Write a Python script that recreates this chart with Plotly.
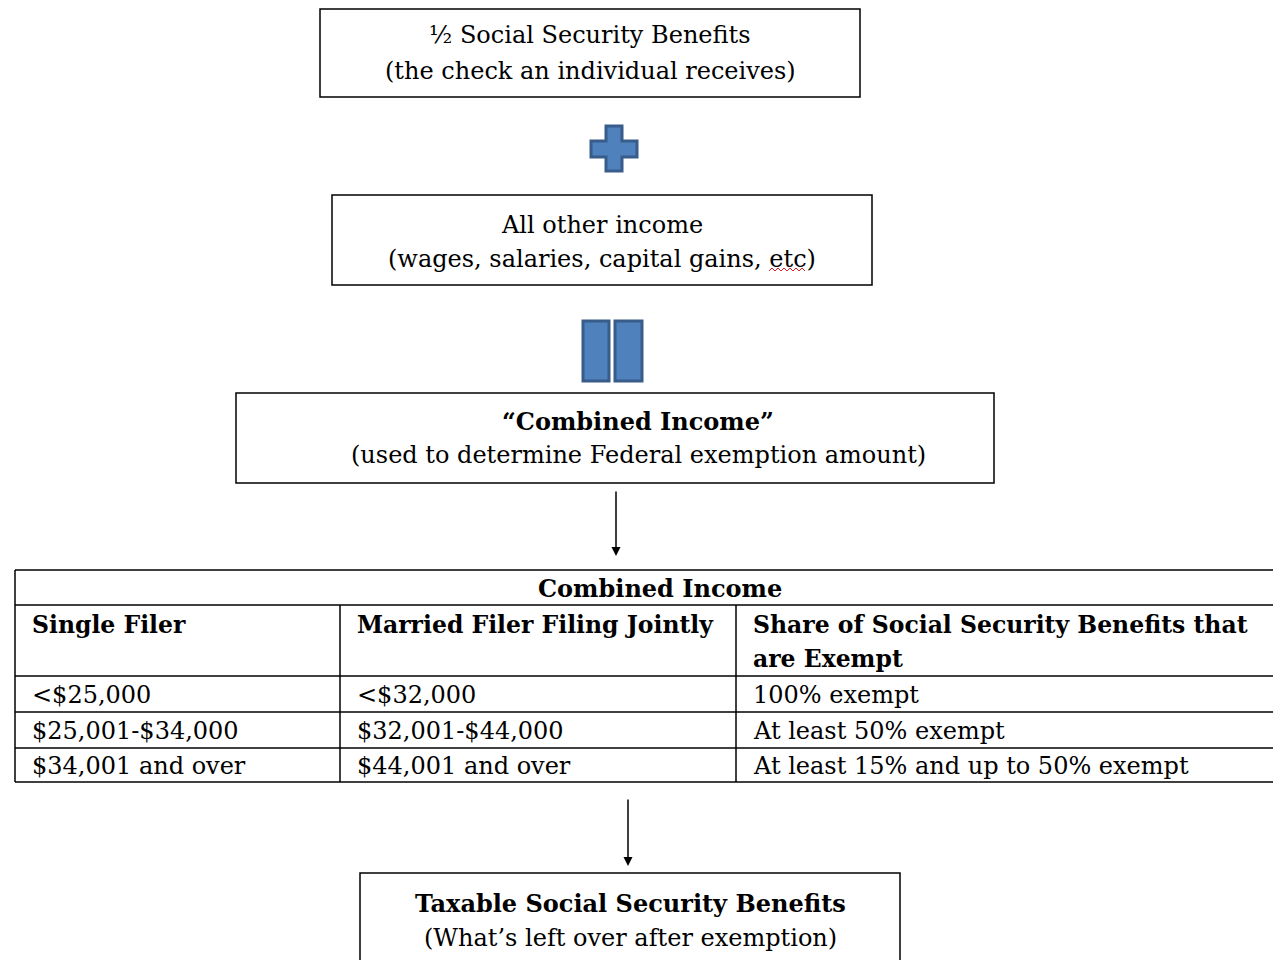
import plotly.graph_objects as go

# Textos do fluxograma
box_titles = ['½ Social Security Benefits', 'All other income',
              '“Combined Income”', 'Taxable Social Security Benefits']
box_subtitles = ['(the check an individual receives)',
                 '(wages, salaries, capital gains, etc)',
                 '(used to determine Federal exemption amount)',
                 '(What’s left over after exemption)']
box_bold = [False, False, True, True]

# Tabela
table_title = 'Combined Income'
table_headers = [['Single Filer'], ['Married Filer Filing Jointly'],
                 ['Share of Social Security Benefits that', 'are Exempt']]
single_filer = ['<$25,000', '$25,001-$34,000', '$34,001 and over']
married_jointly = ['<$32,000', '$32,001-$44,000', '$44,001 and over']
share_exempt = ['100% exempt', 'At least 50% exempt', 'At least 15% and up to 50% exempt']

FONT = 'DejaVu Serif'
SIZE = 24
BLUE_FILL = '#4F81BD'
BLUE_LINE = '#385D8A'

# a página tem 8px de margem no body: compensado nos eixos
OFF = 8
W, H = 1281, 960
fig = go.Figure()

# Caixas: (x0, x1, y0, y1)
boxes = [(320, 860, 9, 97), (332, 872, 195, 285), (236, 994, 393, 483), (360, 900, 873, 975)]
text_x = [590, 602, 638, 630]
title_y = [35, 225, 421, 903]
sub_y = [71, 259, 455, 938]

for (x0, x1, y0, y1), cx, t, s, b, ty, sy in zip(boxes, text_x, box_titles, box_subtitles,
                                                 box_bold, title_y, sub_y):
    fig.add_shape(type='rect', x0=x0, x1=x1, y0=y0, y1=y1,
                  line=dict(color='black', width=1.5), fillcolor='white')
    fig.add_annotation(x=cx, y=ty, text=f'<b>{t}</b>' if b else t, showarrow=False,
                       font=dict(family=FONT, size=SIZE, color='black'))
    fig.add_annotation(x=cx, y=sy, text=s, showarrow=False,
                       font=dict(family=FONT, size=SIZE, color='black'))

# Sublinhado ondulado vermelho em "etc"
wave = 'M 769 271 ' + ' '.join(f'L {769 + 3 * i} {271 if i % 2 == 0 else 268}' for i in range(1, 13))
fig.add_shape(type='path', path=wave, line=dict(color='#E02020', width=1))

# Sinal de mais
fig.add_shape(type='path',
              path='M 606 126 L 622 126 L 622 141 L 637 141 L 637 157 L 622 157 L 622 171 L 606 171 L 606 157 L 591 157 L 591 141 L 606 141 Z',
              fillcolor=BLUE_FILL, line=dict(color=BLUE_LINE, width=3))

# Sinal de igual (barras verticais)
for x0, x1 in [(583, 609), (615, 642)]:
    fig.add_shape(type='rect', x0=x0, x1=x1, y0=321, y1=381,
                  fillcolor=BLUE_FILL, line=dict(color=BLUE_LINE, width=3))

# Setas
for x, ya, yb in [(616, 490, 556), (628, 798, 866)]:
    fig.add_annotation(x=x, y=yb, ax=x, ay=ya, xref='x', yref='y', axref='x', ayref='y',
                       text='', showarrow=True, arrowhead=2, arrowsize=1.2,
                       arrowwidth=1.5, arrowcolor='black')

# Tabela
tx0, tx1 = 15, 1290
row_y = [570, 605, 676, 712, 748, 782]
col_x = [15, 340, 736, tx1]
for y in row_y:
    fig.add_shape(type='line', x0=tx0, x1=tx1, y0=y, y1=y, line=dict(color='black', width=1.5))
fig.add_shape(type='line', x0=tx0, x1=tx0, y0=row_y[0], y1=row_y[-1], line=dict(color='black', width=1.5))
for x in col_x[1:3]:
    fig.add_shape(type='line', x0=x, x1=x, y0=row_y[1], y1=row_y[-1], line=dict(color='black', width=1.5))

fig.add_annotation(x=660, y=588, text=f'<b>{table_title}</b>', showarrow=False,
                   font=dict(family=FONT, size=SIZE, color='black'))
for i, lines in enumerate(table_headers):
    for j, h in enumerate(lines):
        fig.add_annotation(x=col_x[i] + 15, y=625 + 34 * j, text=f'<b>{h}</b>', showarrow=False,
                           xanchor='left', align='left',
                           font=dict(family=FONT, size=23.5, color='black'))
for c, col in enumerate([single_filer, married_jointly, share_exempt]):
    for r, val in enumerate(col):
        fig.add_annotation(x=col_x[c] + 15, y=(row_y[r + 2] + row_y[r + 3]) / 2 + 1, text=val,
                           showarrow=False, xanchor='left',
                           font=dict(family=FONT, size=SIZE, color='black'))

fig.update_layout(
    width=W - OFF, height=H - OFF,
    margin=dict(l=0, r=0, t=0, b=0),
    paper_bgcolor='white', plot_bgcolor='white',
    xaxis=dict(range=[OFF, W], visible=False, fixedrange=True),
    yaxis=dict(range=[H, OFF], visible=False, fixedrange=True),
    showlegend=False
)

fig.write_html('out.html')
